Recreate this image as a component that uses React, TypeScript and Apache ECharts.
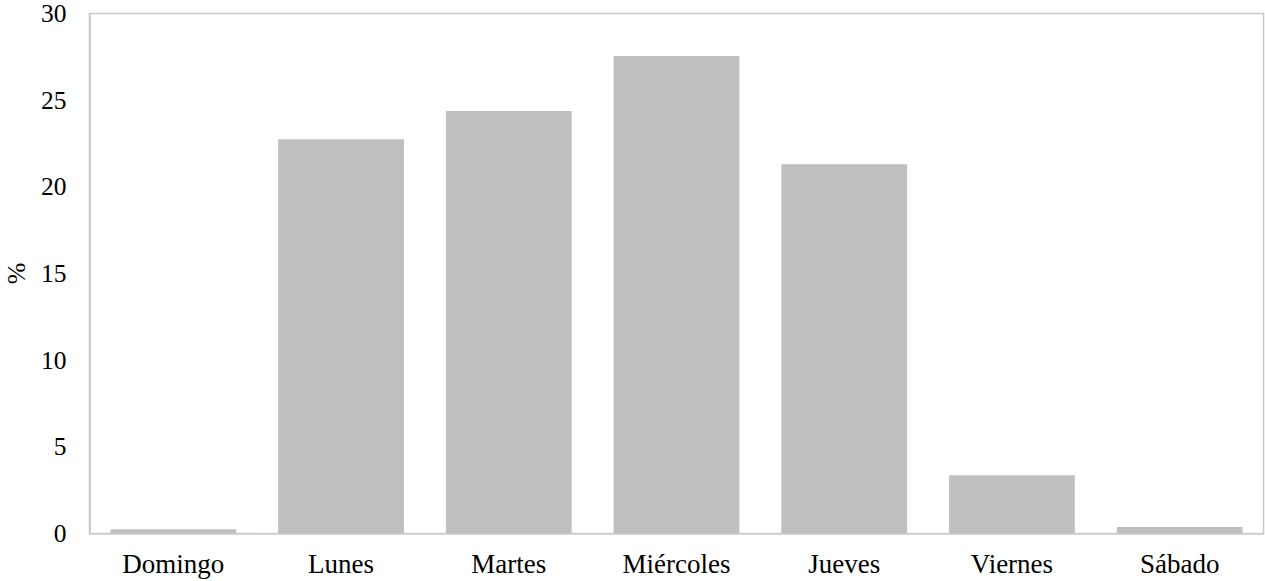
import React, { useEffect, useRef } from "react";
import * as echarts from "echarts";

const categories = ["Domingo", "Lunes", "Martes", "Miércoles", "Jueves", "Viernes", "Sábado"];
const values = [0.25, 22.75, 24.38, 27.55, 21.31, 3.36, 0.38];
const yTicks = { min: 0, max: 30, interval: 5 };

const FONT = "'Liberation Serif', 'Times New Roman', serif";

export default function App() {
  const ref = useRef<HTMLDivElement>(null);
  useEffect(() => {
    if (!ref.current) return;
    const chart = echarts.init(ref.current, undefined, { renderer: "svg" });
    chart.setOption({
      animation: false,
      backgroundColor: "#ffffff",
      grid: {
        left: 89.5,
        top: 13.5,
        right: 1.5,
        bottom: 47.5,
        show: true,
        borderColor: "#c8c8c8",
        borderWidth: 1.5,
        containLabel: false,
        outerBoundsMode: "none",
      },
      xAxis: {
        type: "category",
        data: categories,
        axisLine: { show: true, lineStyle: { color: "#d0d0d0", width: 1.5 } },
        axisTick: { show: false },
        axisLabel: { color: "#000", fontFamily: FONT, fontSize: 27, margin: 17 },
      },
      yAxis: {
        type: "value",
        min: yTicks.min,
        max: yTicks.max,
        interval: yTicks.interval,
        name: "%",
        nameLocation: "middle",
        nameGap: 60,
        nameRotate: 90,
        nameTextStyle: { color: "#000", fontFamily: FONT, fontSize: 26 },
        axisLine: { show: true, lineStyle: { color: "#c8c8c8", width: 1.5 } },
        axisTick: { show: false },
        splitLine: { show: false },
        axisLabel: {
          color: "#000",
          fontFamily: FONT,
          fontSize: 25.5,
          margin: 23,
        },
      },
      series: [
        {
          type: "bar",
          data: values,
          barWidth: "75%",
          itemStyle: { color: "#bfbfbf" },
        },
      ],
    });
    return () => chart.dispose();
  }, []);
  return (
    <div
      ref={ref}
      style={{ position: "fixed", left: 0, top: 0, width: 1265, height: 581 }}
    />
  );
}
